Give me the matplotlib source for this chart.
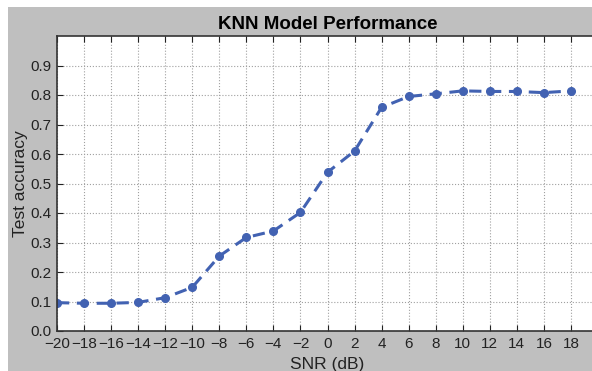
import matplotlib.pyplot as plt
import matplotlib.patches as mpatches

# SNR sweep and KNN test accuracy
snr = [-20, -18, -16, -14, -12, -10, -8, -6, -4, -2, 0, 2, 4, 6, 8, 10, 12, 14, 16, 18]
acc = [0.096, 0.094, 0.094, 0.097, 0.113, 0.148, 0.254, 0.317, 0.339, 0.402,
       0.538, 0.61, 0.758, 0.795, 0.804, 0.814, 0.812, 0.812, 0.808, 0.814]
xticks = list(range(-20, 20, 2))
yticks = [0.0, 0.1, 0.2, 0.3, 0.4, 0.5, 0.6, 0.7, 0.8, 0.9]

# narrower font than DejaVu, the screenshot text looks squeezed
plt.rcParams['font.family'] = ['Liberation Sans', 'DejaVu Sans']

fig = plt.figure(figsize=(5.92, 3.71), dpi=100, facecolor='white')
# grey panel (white strip left and top, as in the screenshot)
bg = mpatches.Rectangle((8/592, 0), 1, 1 - 7/371, transform=fig.transFigure,
                        facecolor='#bfbfbf', edgecolor='none', zorder=-10)
fig.patches.append(bg)

ax = fig.add_axes([57/592, 1 - 331/371, (598 - 57)/592, (331 - 36)/371])
ax.set_facecolor('white')

ax.plot(snr, acc, '--o', color='#4262b2', linewidth=2.2, markersize=5.5,
        dashes=(4, 2.5), markeredgecolor='#4262b2')

ax.set_xlim(-20, 20)
ax.set_ylim(0, 1.0)
ax.set_xticks(xticks)
ax.set_yticks(yticks)
ax.grid(True, linestyle=':', color='#a0a0a0', linewidth=0.8)
ax.tick_params(direction='in', top=True, right=True, labelsize=11, pad=4,
               colors='#222222', length=4)
for s in ax.spines.values():
    s.set_linewidth(1.2)
    s.set_color('#333333')

ax.set_title('KNN Model Performance', fontsize=13.5, fontweight='bold', pad=5)
ax.set_xlabel('SNR (dB)', fontsize=12.5, labelpad=5, color='#222222')
ax.set_ylabel('Test accuracy', fontsize=12.5, labelpad=2, color='#222222')

fig.savefig('out.png', dpi=100, facecolor=fig.get_facecolor())
